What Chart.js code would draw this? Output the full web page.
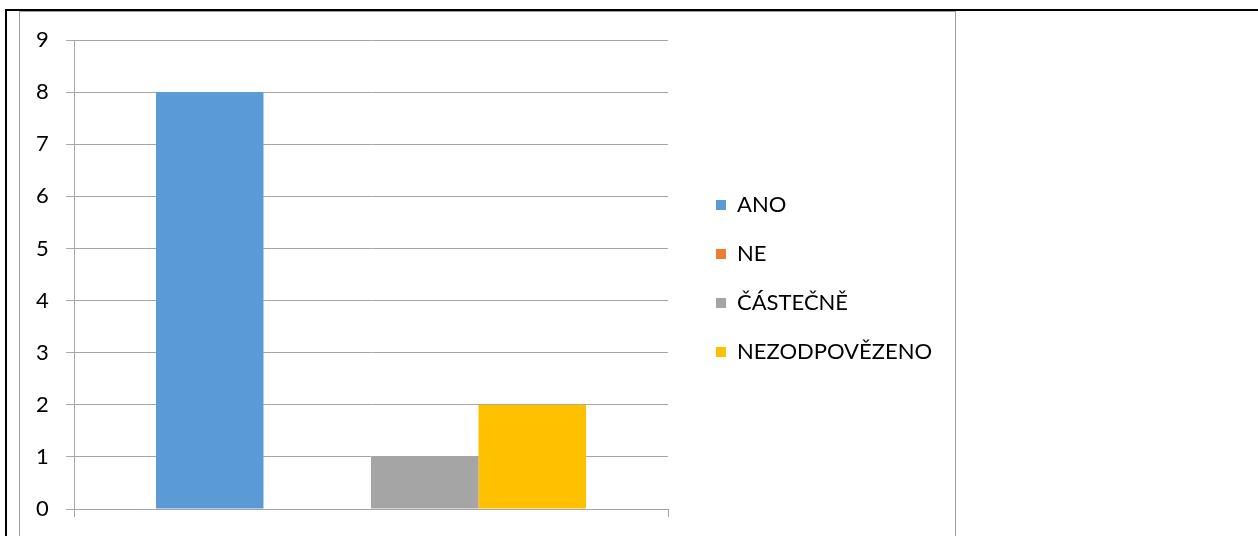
<!DOCTYPE html>
<html>
<head>
<meta charset="utf-8">
<script src="https://cdn.jsdelivr.net/npm/chart.js"></script>
<style>
  body { margin: 0; background: #fff; }
  .rule { position: absolute; background: #000; }
  #frame { position: absolute; left: 19px; top: 11px; width: 935px; height: 560px; border: 1px solid #a0a0a0; }
  #box { position: absolute; left: 0; top: 0; width: 934px; height: 515px; }
</style>
</head>
<body>
<div class="rule" style="left:5px;top:9px;width:2px;height:540px"></div>
<div class="rule" style="left:5px;top:9px;width:1260px;height:2px"></div>
<div id="frame"><div id="box"><canvas id="chart"></canvas></div></div>
<script>
var categories = [''];
var seriesNames = ['ANO', 'NE', 'ČÁSTEČNĚ', 'NEZODPOVĚZENO'];
var seriesValues = [[8], [0], [1], [2]];
var seriesColors = ['#5b9bd5', '#ed7d31', '#a5a5a5', '#ffc000'];
var yTicks = [0, 1, 2, 3, 4, 5, 6, 7, 8, 9];

var fontName = 'Lato';
var fontSize = 22;
var gridColor = '#a6a6a6';

// legend is on the right; size the right padding so the plot ends where it should
var m = document.createElement('canvas').getContext('2d');
m.font = fontSize + 'px ' + fontName;
var textW = Math.max.apply(null, seriesNames.map(function (s) { return m.measureText(s).width; }));
var padRight = Math.max(0, 934 - 648 - 21 - (27 + 10 + 10 + fontSize / 2 + textW));

var datasets = seriesNames.map(function (name, i) {
  return {
    label: name,
    data: seriesValues[i],
    backgroundColor: seriesColors[i],
    borderWidth: 0,
    categoryPercentage: 0.724,
    barPercentage: 1.0
  };
});

new Chart(document.getElementById('chart'), {
  type: 'bar',
  data: { labels: categories, datasets: datasets },
  options: {
    responsive: true,
    maintainAspectRatio: false,
    animation: false,
    layout: { padding: { top: 28, left: 16, right: padRight, bottom: 10 } },
    plugins: {
      tooltip: { enabled: false },
      legend: {
        position: 'right',
        maxWidth: 400,
        labels: {
          boxWidth: 10,
          boxHeight: 10,
          padding: 27,
          color: '#000',
          font: { family: fontName, size: fontSize }
        }
      }
    },
    scales: {
      x: {
        grid: { drawOnChartArea: false, color: gridColor, tickLength: 8, offset: true },
        border: { color: gridColor },
        ticks: { display: false }
      },
      y: {
        min: 0,
        max: 9,
        afterBuildTicks: function (s) { s.ticks = yTicks.map(function (v) { return { value: v }; }); },
        afterFit: function (s) { s.width = 38; },
        grid: { color: gridColor, tickLength: 8 },
        border: { color: gridColor },
        ticks: { color: '#000', crossAlign: 'far', font: { family: fontName, size: fontSize } }
      },
      y2: {
        position: 'right',
        grid: { display: false },
        border: { display: false },
        ticks: { display: false },
        afterFit: function (s) { s.width = 21; }
      }
    }
  }
});
</script>
</body>
</html>
